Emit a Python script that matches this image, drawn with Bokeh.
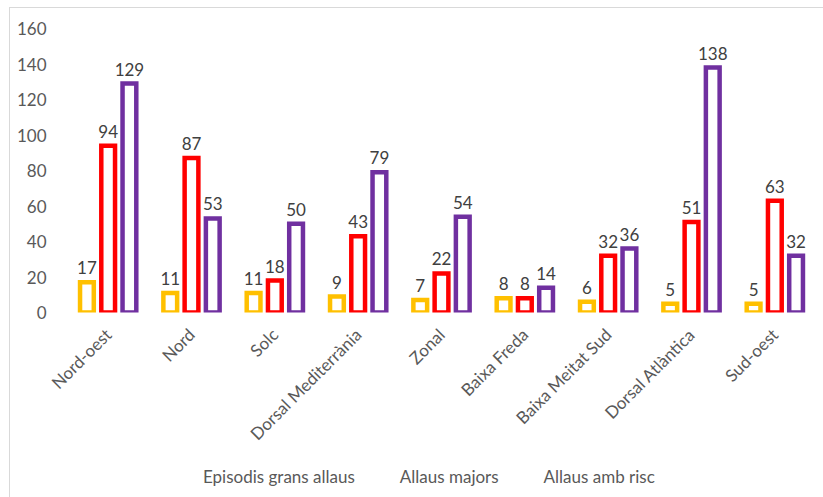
from bokeh.plotting import figure
from bokeh.models import (ColumnDataSource, FactorRange, Range1d, Legend, LegendItem,
                          FixedTicker, CDSView, IndexFilter)
from bokeh.layouts import column
from bokeh.transform import dodge
from bokeh.core.properties import value
from bokeh.embed import file_html
from bokeh.resources import INLINE
import math

categories = ["Nord-oest", "Nord", "Solc", "Dorsal Mediterrània", "Zonal",
              "Baixa Freda", "Baixa Meitat Sud", "Dorsal Atlàntica", "Sud-oest"]
episodis = [17, 11, 11, 9, 7, 8, 6, 5, 5]
majors = [94, 87, 18, 43, 22, 8, 32, 51, 63]
risc = [129, 53, 50, 79, 54, 14, 36, 138, 32]
series_names = ["Episodis grans allaus", "Allaus majors", "Allaus amb risc"]
y_ticks = [0, 20, 40, 60, 80, 100, 120, 140, 160]

colors = ["#FFC000", "#FF0000", "#7030A0"]
offsets = [-0.255, 0.0, 0.255]
FONT = "Lato"

src = ColumnDataSource(dict(
    cat=categories,
    s0=episodis, s1=majors, s2=risc,
    t0=[str(v) for v in episodis],
    t1=[str(v) for v in majors],
    t2=[str(v) for v in risc],
))

p = figure(x_range=FactorRange(*categories), y_range=Range1d(0, 160),
           width=813, height=489, output_backend="svg", toolbar_location=None,
           min_border_left=56, min_border_right=7, min_border_top=20, min_border_bottom=185)
p.outline_line_color = None
p.xgrid.grid_line_color = None
p.ygrid.grid_line_color = None
p.x_range.range_padding = 0
p.border_fill_alpha = 0

for i in range(3):
    p.vbar(x=dodge("cat", offsets[i], range=p.x_range), top="s%d" % i, width=0.165,
           source=src, fill_color="white", line_color=colors[i], line_width=4.5,
           line_join="miter")
    p.text(x=dodge("cat", offsets[i], range=p.x_range), y="s%d" % i, text="t%d" % i,
           source=src, text_align="center", text_baseline="bottom", y_offset=-8,
           text_font=value(FONT), text_font_size="17px", text_color="#404040")

p.yaxis.ticker = FixedTicker(ticks=y_ticks)
p.yaxis.axis_line_color = None
p.yaxis.major_tick_line_color = None
p.yaxis.minor_tick_line_color = None
p.yaxis.major_label_standoff = 14
p.yaxis.major_label_text_font = FONT
p.yaxis.major_label_text_font_size = "17px"
p.yaxis.major_label_text_color = "#595959"

p.xaxis.axis_line_color = None
p.xaxis.major_tick_line_color = None
p.xaxis.major_label_orientation = math.pi / 4
p.xaxis.major_label_standoff = 13
p.xaxis.major_label_text_font = FONT
p.xaxis.major_label_text_font_size = "17px"
p.xaxis.major_label_text_color = "#595959"

# legend strip, overlapping the bottom of the chart; its renderers draw no bars
lf = figure(width=813, height=30, output_backend="svg", toolbar_location=None,
            x_range=FactorRange(*categories), y_range=Range1d(1000, 1001), min_border=0,
            x_axis_location=None, y_axis_location=None,
            styles={"margin-top": "-30px"})
lf.grid.visible = False
lf.outline_line_color = None
lf.background_fill_alpha = 0
lf.border_fill_alpha = 0

legend_renderers = []
for i in range(3):
    r = lf.vbar(x="cat", top="s%d" % i, width=0.1, source=src,
                view=CDSView(filter=IndexFilter(indices=[])),
                fill_color="white", line_color=colors[i], line_width=4.5, line_join="miter")
    legend_renderers.append(r)

legend = Legend(items=[LegendItem(label=series_names[i], renderers=[legend_renderers[i]]) for i in range(3)],
                orientation="horizontal", location=(122, 10),
                glyph_width=10, glyph_height=10, label_standoff=5, spacing=30,
                padding=0, margin=0, border_line_color=None, background_fill_alpha=0,
                label_text_font=FONT, label_text_font_size="17px", label_text_color="#595959")
lf.add_layout(legend, "center")

layout = column(p, lf, styles={"margin-left": "9px", "margin-top": "7px",
                               "border-left": "1px solid #D9D9D9",
                               "border-top": "1px solid #D9D9D9"})

open("out.html", "w").write(file_html(layout, INLINE))
